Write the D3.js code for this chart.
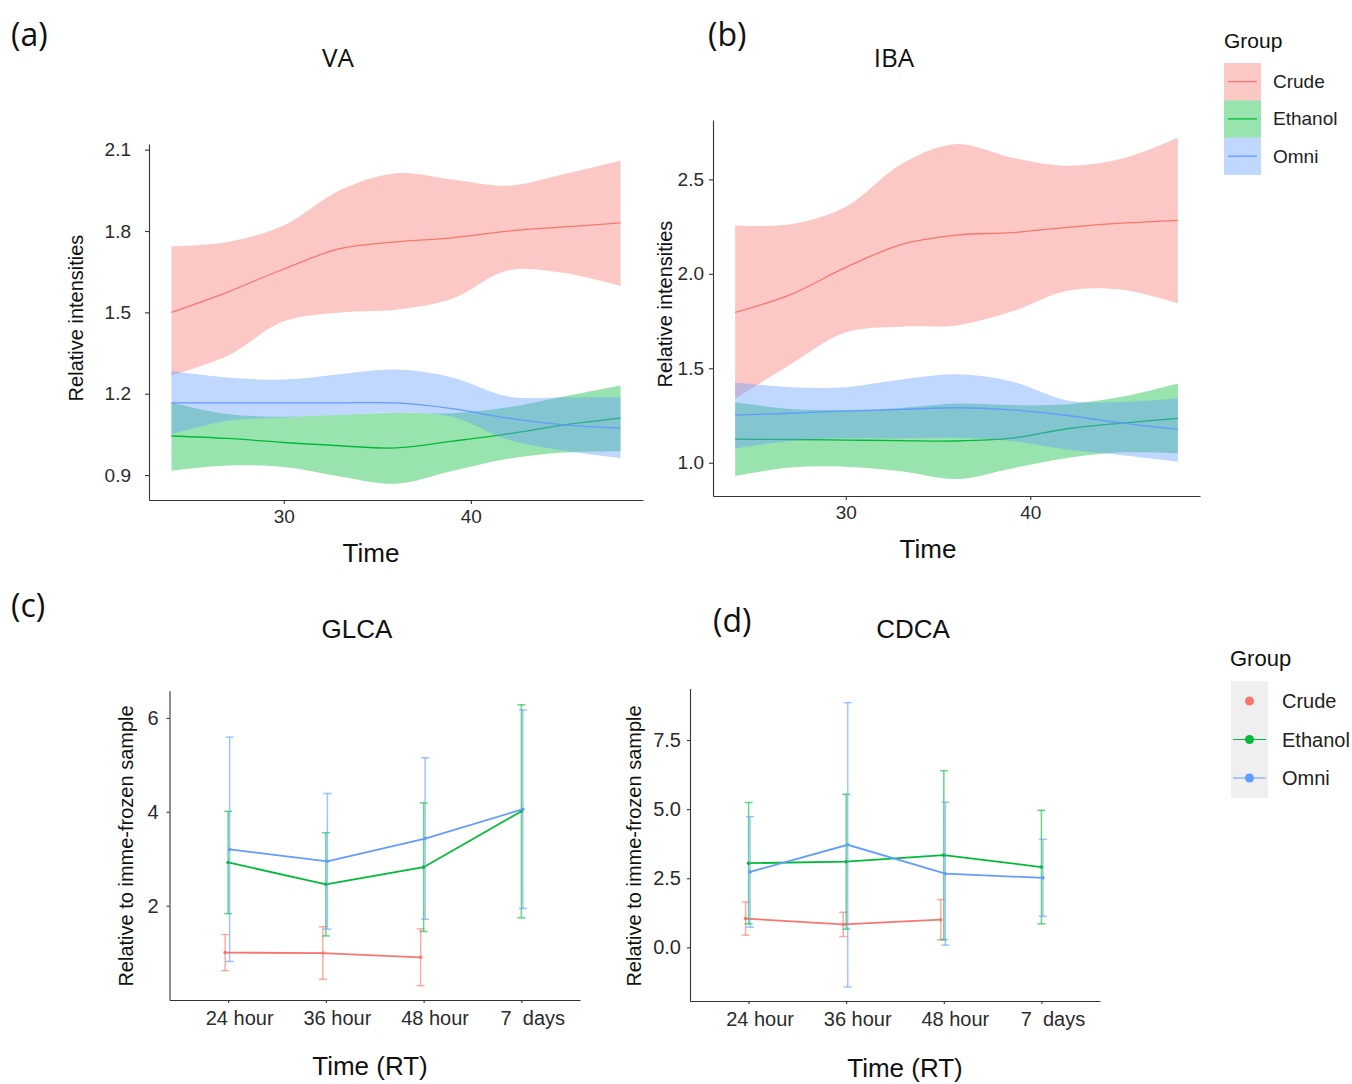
<!DOCTYPE html>
<html>
<head>
<meta charset="UTF-8">
<title>VA / IBA / GLCA / CDCA</title>
<script src="https://d3js.org/d3.v7.min.js"></script>
<style>
    body { margin: 0; background: #fff; }
    svg { display: block; font-family: "Liberation Sans", Arial, sans-serif; }
    .axis path, .axis line { stroke: #333; stroke-width: 1.1; }
    .axis text { fill: #2b2b2b; font-family: "Liberation Sans", Arial, sans-serif; }
    .tag { font-family: "Open Sans", "Noto Sans", sans-serif; fill: #111; }
</style>
</head>
<body>
<svg id="chart" width="1352" height="1084"></svg>
<script>
const groups = ["Crude", "Ethanol", "Omni"];
const groupColors = ["#F8766D", "#00BA38", "#619CFF"];

// smoothed trends (a, b): fitted value + confidence band, read at these hours
const smoothHours = [24, 27, 30, 33, 36, 39, 42, 45, 48];

const vaCrudeFit   = [1.50, 1.575, 1.66, 1.735, 1.76, 1.775, 1.80, 1.815, 1.83];
const vaCrudeLow   = [1.268, 1.34, 1.467, 1.50, 1.51, 1.55, 1.655, 1.645, 1.597];
const vaCrudeHigh  = [1.744, 1.76, 1.82, 1.95, 2.013, 1.99, 1.967, 2.01, 2.06];
const vaEthanolFit  = [1.044, 1.035, 1.02, 1.008, 1.0, 1.025, 1.052, 1.085, 1.11];
const vaEthanolLow  = [0.916, 0.935, 0.93, 0.895, 0.868, 0.915, 0.96, 0.983, 0.988];
const vaEthanolHigh = [1.168, 1.125, 1.115, 1.122, 1.131, 1.128, 1.15, 1.19, 1.23];
const vaOmniFit    = [1.166, 1.166, 1.166, 1.166, 1.166, 1.145, 1.11, 1.085, 1.073];
const vaOmniLow    = [1.05, 1.10, 1.112, 1.122, 1.131, 1.115, 1.03, 0.99, 0.963];
const vaOmniHigh   = [1.284, 1.26, 1.252, 1.272, 1.289, 1.26, 1.19, 1.187, 1.187];

const ibaCrudeFit   = [1.796, 1.89, 2.034, 2.155, 2.205, 2.218, 2.246, 2.268, 2.283];
const ibaCrudeLow   = [1.34, 1.52, 1.69, 1.72, 1.727, 1.80, 1.91, 1.916, 1.844];
const ibaCrudeHigh  = [2.255, 2.262, 2.355, 2.58, 2.687, 2.615, 2.572, 2.61, 2.72];
const ibaEthanolFit  = [1.125, 1.123, 1.12, 1.117, 1.115, 1.13, 1.18, 1.21, 1.235];
const ibaEthanolLow  = [0.931, 0.975, 0.979, 0.955, 0.914, 0.97, 1.025, 1.055, 1.05];
const ibaEthanolHigh = [1.32, 1.285, 1.279, 1.29, 1.313, 1.305, 1.31, 1.35, 1.42];
const ibaOmniFit    = [1.252, 1.262, 1.273, 1.282, 1.291, 1.28, 1.25, 1.21, 1.177];
const ibaOmniLow    = [1.076, 1.115, 1.129, 1.129, 1.132, 1.115, 1.07, 1.04, 1.005];
const ibaOmniHigh   = [1.425, 1.40, 1.40, 1.44, 1.468, 1.43, 1.33, 1.322, 1.34];

// mean +- sd relative to imme-frozen sample (c, d)
const timeLabels = ["24 hour", "36 hour", "48 hour", "7  days"];

const glcaCrudeMean   = [1.00, 0.99, 0.90, null];
const glcaCrudeSd     = [0.385, 0.56, 0.605, null];
const glcaEthanolMean = [2.92, 2.455, 2.82, 4.01];
const glcaEthanolSd   = [1.09, 1.10, 1.37, 2.27];
const glcaOmniMean    = [3.20, 2.945, 3.43, 4.055];
const glcaOmniSd      = [2.39, 1.445, 1.72, 2.115];

const cdcaCrudeMean   = [1.04, 0.83, 1.00, null];
const cdcaCrudeSd     = [0.60, 0.44, 0.73, null];
const cdcaEthanolMean = [3.045, 3.10, 3.335, 2.905];
const cdcaEthanolSd   = [2.195, 2.44, 3.055, 2.055];
const cdcaOmniMean    = [2.73, 3.71, 2.665, 2.515];
const cdcaOmniSd      = [2.00, 5.14, 2.585, 1.395];

const svg = d3.select("#chart");

function label(txt, x, y, size, opts = {}) {
    const t = svg.append("text")
        .attr("x", x).attr("y", y)
        .attr("font-size", size)
        .attr("text-anchor", opts.anchor || "middle")
        .attr("fill", opts.fill || "#111")
        .text(txt);
    if (opts.cls) t.attr("class", opts.cls);
    if (opts.rotate) t.attr("transform", `rotate(-90,${x},${y})`);
    return t;
}

function drawSmooth(p) {
    const x = d3.scaleLinear().domain([22.8, 49.2]).range([p.left, p.right]);
    const y = d3.scaleLinear().domain(p.yDomain).range([p.bottom, p.top]);
    const g = svg.append("g");

    const area = d3.area()
        .x(d => x(d.h)).y0(d => y(d.lo)).y1(d => y(d.hi))
        .curve(d3.curveCatmullRom);
    const line = d3.line()
        .x(d => x(d.h)).y(d => y(d.fit))
        .curve(d3.curveCatmullRom);

    p.series.forEach((s, i) => {
        const pts = smoothHours.map((h, k) => ({ h, fit: s[0][k], lo: s[1][k], hi: s[2][k] }));
        g.append("path").datum(pts)
            .attr("fill", groupColors[i]).attr("fill-opacity", 0.4)
            .attr("d", area);
        g.append("path").datum(pts)
            .attr("fill", "none").attr("stroke", groupColors[i]).attr("stroke-width", 1.3)
            .attr("d", line);
    });

    svg.append("g").attr("class", "axis")
        .attr("transform", `translate(0,${p.bottom})`)
        .call(d3.axisBottom(x).tickValues([30, 40]).tickSize(4).tickSizeOuter(0).tickPadding(6))
        .selectAll("text").attr("font-size", 19);
    svg.append("g").attr("class", "axis")
        .attr("transform", `translate(${p.left},0)`)
        .call(d3.axisLeft(y).tickValues(p.yTicks).tickFormat(d3.format(".1f")).tickSize(4).tickSizeOuter(0).tickPadding(p.yPad))
        .selectAll("text").attr("font-size", 19);

    label(p.title, p.titleX, 67, 26, { cls: "tag" });
    label(p.tag, p.tagX, 46, 32, { cls: "tag", anchor: "start" });
    label("Time", p.timeX, p.bottom + 62, 26);
    label("Relative intensities", p.ylabX, (p.top + p.bottom) / 2 - 4, 20, { rotate: true });
}

function drawErrors(p) {
    const x = d3.scalePoint().domain(timeLabels).range([p.left, p.right]).padding(0.6);
    const y = d3.scaleLinear().domain(p.yDomain).range([p.bottom, p.top]);
    const dodge = [-3, 0, 1.5];
    const g = svg.append("g");

    p.series.forEach((s, i) => {
        const pts = timeLabels.map((t, k) => ({ t, m: s[0][k], sd: s[1][k] })).filter(d => d.m != null);
        const cx = d => x(d.t) + dodge[i];
        const c = groupColors[i];
        const bars = g.append("g").attr("stroke", c).attr("stroke-opacity", 0.6).attr("stroke-width", 1.5);
        bars.selectAll(".v").data(pts).join("line")
            .attr("x1", cx).attr("x2", cx)
            .attr("y1", d => y(d.m - d.sd)).attr("y2", d => y(d.m + d.sd));
        bars.selectAll(".top").data(pts).join("line")
            .attr("x1", d => cx(d) - 4).attr("x2", d => cx(d) + 4)
            .attr("y1", d => y(d.m + d.sd)).attr("y2", d => y(d.m + d.sd));
        bars.selectAll(".bot").data(pts).join("line")
            .attr("x1", d => cx(d) - 4).attr("x2", d => cx(d) + 4)
            .attr("y1", d => y(d.m - d.sd)).attr("y2", d => y(d.m - d.sd));
        g.append("path").datum(pts)
            .attr("fill", "none").attr("stroke", c).attr("stroke-width", 1.8)
            .attr("d", d3.line().x(cx).y(d => y(d.m)));
        g.selectAll(null).data(pts).join("circle")
            .attr("cx", cx).attr("cy", d => y(d.m)).attr("r", 1.8).attr("fill", c);
    });

    svg.append("g").attr("class", "axis")
        .attr("transform", `translate(0,${p.bottom})`)
        .call(d3.axisBottom(x).tickSize(3).tickSizeOuter(0).tickPadding(8))
        .selectAll("text").attr("font-size", 20).attr("dx", 11).style("white-space", "pre");
    svg.append("g").attr("class", "axis")
        .attr("transform", `translate(${p.left},0)`)
        .call(d3.axisLeft(y).tickValues(p.yTicks).tickFormat(p.yFormat).tickSize(3).tickSizeOuter(0).tickPadding(p.yPad))
        .selectAll("text").attr("font-size", 20);

    label(p.title, p.titleX, 638, 26);
    label(p.tag, p.tagX, p.tagY, 32, { cls: "tag", anchor: "start" });
    label("Time (RT)", p.timeX, p.timeY, 26);
    label("Relative to imme-frozen sample", p.ylabX, 846, 20, { rotate: true });
}

drawSmooth({
    left: 149, right: 643, top: 144, bottom: 500, yPad: 14,
    yDomain: [0.808, 2.121], yTicks: [0.9, 1.2, 1.5, 1.8, 2.1],
    series: [[vaCrudeFit, vaCrudeLow, vaCrudeHigh], [vaEthanolFit, vaEthanolLow, vaEthanolHigh], [vaOmniFit, vaOmniLow, vaOmniHigh]],
    title: "VA", titleX: 338, tag: "(a)", tagX: 11, ylabX: 83, timeX: 371
});
drawSmooth({
    left: 713, right: 1200, top: 120, bottom: 496, yPad: 5,
    yDomain: [0.824, 2.814], yTicks: [1.0, 1.5, 2.0, 2.5],
    series: [[ibaCrudeFit, ibaCrudeLow, ibaCrudeHigh], [ibaEthanolFit, ibaEthanolLow, ibaEthanolHigh], [ibaOmniFit, ibaOmniLow, ibaOmniHigh]],
    title: "IBA", titleX: 894, tag: "(b)", tagX: 708, ylabX: 672, timeX: 928
});
drawErrors({
    left: 169.5, right: 580, top: 690.7, bottom: 1000,
    yDomain: [-0.01, 6.58], yTicks: [2, 4, 6], yFormat: d3.format("d"), yPad: 8,
    series: [[glcaCrudeMean, glcaCrudeSd], [glcaEthanolMean, glcaEthanolSd], [glcaOmniMean, glcaOmniSd]],
    title: "GLCA", titleX: 357, tag: "(c)", tagX: 11, tagY: 617, timeX: 370, timeY: 1075, ylabX: 133
});
drawErrors({
    left: 690, right: 1100, top: 688.6, bottom: 1001,
    yDomain: [-1.94, 9.36], yTicks: [0, 2.5, 5, 7.5], yFormat: d3.format(".1f"), yPad: 6,
    series: [[cdcaCrudeMean, cdcaCrudeSd], [cdcaEthanolMean, cdcaEthanolSd], [cdcaOmniMean, cdcaOmniSd]],
    title: "CDCA", titleX: 913, tag: "(d)", tagX: 713, tagY: 632, timeX: 905, timeY: 1077, ylabX: 641
});

// legend for the smoothed panels
const leg1 = svg.append("g");
label("Group", 1224, 48, 21, { anchor: "start" });
groups.forEach((gname, i) => {
    const y0 = 63 + i * 37.3;
    leg1.append("rect").attr("x", 1224).attr("y", y0).attr("width", 37).attr("height", 37.3)
        .attr("fill", groupColors[i]).attr("fill-opacity", 0.4);
    leg1.append("line").attr("x1", 1228).attr("x2", 1257).attr("y1", y0 + 18.6).attr("y2", y0 + 18.6)
        .attr("stroke", groupColors[i]).attr("stroke-width", 1.3);
    label(gname, 1273, y0 + 25, 19, { anchor: "start", fill: "#222" });
});

// legend for the error-bar panels
const leg2 = svg.append("g");
label("Group", 1230, 666, 22, { anchor: "start" });
leg2.append("rect").attr("x", 1231).attr("y", 681).attr("width", 37).attr("height", 117).attr("fill", "#efefef");
groups.forEach((gname, i) => {
    const yc = 701 + i * 38.5;
    if (i > 0) {
        leg2.append("line").attr("x1", 1233).attr("x2", 1266).attr("y1", yc).attr("y2", yc)
            .attr("stroke", groupColors[i]).attr("stroke-width", 1);
    }
    leg2.append("circle").attr("cx", 1249.5).attr("cy", yc).attr("r", 4.5).attr("fill", groupColors[i]);
    label(gname, 1282, yc + 7, 20, { anchor: "start", fill: "#222" });
});
</script>
</body>
</html>
